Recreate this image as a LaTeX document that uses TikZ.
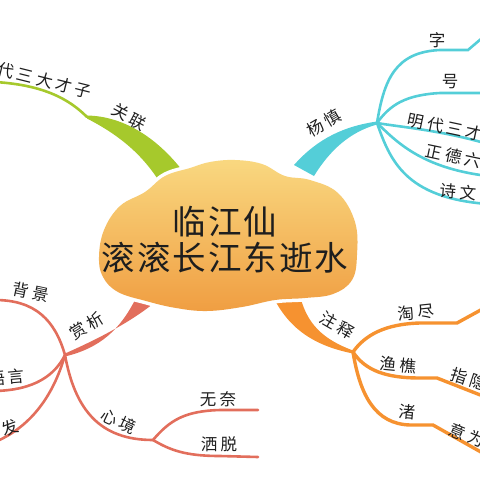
\documentclass[tikz,border=0pt]{standalone}
\usepackage{fontspec}
\setmainfont{Noto Sans CJK SC}
\usepackage{tikz}
\usetikzlibrary{positioning}
\definecolor{limegreen}{RGB}{166,201,44}
\definecolor{skycyan}{RGB}{84,206,216}
\definecolor{coralred}{RGB}{226,110,92}
\definecolor{sunorange}{RGB}{246,146,48}
\definecolor{cloudtop}{RGB}{249,216,128}
\definecolor{cloudmid}{RGB}{245,188,100}
\definecolor{cloudbot}{RGB}{240,158,66}
\definecolor{inkblack}{RGB}{30,30,30}
\newfontfamily\tagfont[LetterSpace=20]{Noto Sans CJK SC}
\newfontfamily\headfont[LetterSpace=6]{Noto Sans CJK SC}

\begin{document}
\begin{tikzpicture}[x=1pt, y=-1pt,
    twig/.style={line width=2.6pt, line cap=round},
    tag/.style={font=\tagfont\fontsize{16.5}{19}\selectfont, text=inkblack, inner sep=0pt},
    headline/.style={font=\headfont\fontsize{33.5}{36}\selectfont, text=inkblack, align=center}
]
    \useasboundingbox (0,0) rectangle (480,480);
    \clip (0,0) rectangle (480,480);

    % Junctions and free ends
    \coordinate (jgreen) at (87,117);
    \coordinate (gend) at (-5,82);
    \coordinate (jcyan) at (377,123);
    \coordinate (czk) at (468,50);
    \coordinate (czend) at (488,33);
    \coordinate (chend) at (488,93);
    \coordinate (cmend) at (488,144);
    \coordinate (czdend) at (488,176);
    \coordinate (cswend) at (488,204);
    \coordinate (jred) at (65,355);
    \coordinate (rbj) at (-5,300);
    \coordinate (ryy) at (-5,391);
    \coordinate (rbf) at (-5,442);
    \coordinate (jxin) at (153,440);
    \coordinate (rwn) at (258,410);
    \coordinate (rst) at (258,457);
    \coordinate (jorange) at (353,352);
    \coordinate (otk) at (457,323);
    \coordinate (otend) at (488,306);
    \coordinate (oyk) at (437,378);
    \coordinate (oyend) at (488,398);
    \coordinate (ozk) at (433,425);
    \coordinate (ozend) at (488,456);

    % Green branch
    \draw[twig, limegreen] (jgreen) .. controls (70,100) and (45,85) .. (gend);
    \fill[limegreen] ([yshift=1.5pt]jgreen) .. controls (118,116) and (152,132) .. (182,170)
        -- (162,186) .. controls (142,152) and (115,133) .. ([yshift=-1.5pt]jgreen) -- cycle;

    % Cyan branch
    \draw[twig, skycyan] (jcyan) .. controls (384,80) and (395,52) .. (440,50) -- (czk) -- (czend);
    \draw[twig, skycyan] (jcyan) .. controls (390,105) and (405,95) .. (440,93) -- (chend);
    \draw[twig, skycyan] (jcyan) .. controls (400,127) and (440,130) .. (cmend);
    \draw[twig, skycyan] (jcyan) .. controls (395,140) and (420,168) .. (czdend);
    \draw[twig, skycyan] (jcyan) .. controls (390,160) and (405,198) .. (cswend);
    \fill[skycyan] ([yshift=1.5pt]jcyan) .. controls (345,126) and (318,138) .. (294,165)
        -- (314,176) .. controls (330,150) and (350,132) .. ([yshift=-1.5pt]jcyan) -- cycle;

    % Red branch
    \draw[twig, coralred] (jred) .. controls (55,320) and (35,300) .. (rbj);
    \draw[twig, coralred] (jred) .. controls (55,375) and (35,390) .. (ryy);
    \draw[twig, coralred] (jred) .. controls (55,390) and (35,425) .. (rbf);
    \draw[twig, coralred] (jred) .. controls (75,410) and (100,440) .. (jxin);
    \draw[twig, coralred] (jxin) .. controls (170,420) and (185,411) .. (220,410) -- (rwn);
    \draw[twig, coralred] (jxin) .. controls (170,450) and (185,456) .. (220,456) -- (rst);
    \fill[coralred] ([yshift=1.5pt]jred) .. controls (100,338) and (135,320) .. (160,298)
        -- (136,298) .. controls (120,330) and (100,348) .. ([yshift=-1.5pt]jred) -- cycle;

    % Orange branch
    \draw[twig, sunorange, line width=3.4pt] (jorange) .. controls (365,335) and (385,324) .. (420,323) -- (otk) -- (otend);
    \draw[twig, sunorange, line width=3.4pt] (jorange) .. controls (365,370) and (385,378) .. (420,378) -- (oyk) -- (oyend);
    \draw[twig, sunorange, line width=3.4pt] (jorange) .. controls (360,395) and (375,424) .. (410,425) -- (ozk) -- (ozend);
    \fill[sunorange] (270,290) .. controls (285,325) and (310,345) .. ([yshift=-1.5pt]jorange)
        -- ([yshift=1.5pt]jorange) .. controls (325,340) and (305,325) .. (299,290) -- cycle;

    % Cloud
    \fill[black!18, xshift=1.5pt, yshift=-2pt] plot[smooth cycle, tension=0.65] coordinates {(99,257) (104,230) (120,206) (145,192) (165,176) (190,168) (210,162) (235,160) (262,164) (285,176) (310,180) (338,193) (355,222) (357,255) (352,280) (333,294) (305,298) (275,300) (242,307) (207,311) (176,308) (146,301) (118,292) (103,277)};
    \draw[white, fill=white, line width=7pt] plot[smooth cycle, tension=0.65] coordinates {(99,257) (104,230) (120,206) (145,192) (165,176) (190,168) (210,162) (235,160) (262,164) (285,176) (310,180) (338,193) (355,222) (357,255) (352,280) (333,294) (305,298) (275,300) (242,307) (207,311) (176,308) (146,301) (118,292) (103,277)};
    \shade[top color=cloudtop, middle color=cloudmid, bottom color=cloudbot] plot[smooth cycle, tension=0.65] coordinates {(99,257) (104,230) (120,206) (145,192) (165,176) (190,168) (210,162) (235,160) (262,164) (285,176) (310,180) (338,193) (355,222) (357,255) (352,280) (333,294) (305,298) (275,300) (242,307) (207,311) (176,308) (146,301) (118,292) (103,277)};
    \node[headline] (poem) at (225,240) {临江仙\\滚滚长江东逝水};

    % Green labels
    \node[tag, rotate=-14] (mingdai) at (35,78) {明代三大才子};
    \node[tag, rotate=-28] (guanlian) at (129,117) {关联};

    % Cyan labels
    \node[tag, rotate=30] (yangshen) at (324,123) {杨慎};
    \node[tag] (zi) at (437,40) {字};
    \node[tag] (hao) at (450,82) {号};
    \node[tag, rotate=-12, anchor=west] (mingsan) at (408,119) {明代三才子};
    \node[tag, rotate=-12, anchor=west] (zhengde) at (426,150) {正德六年};
    \node[tag, rotate=-5, anchor=west] (shiwen) at (440,190) {诗文};

    % Red labels
    \node[tag, rotate=32] (shangxi) at (87,326) {赏析};
    \node[tag, rotate=-12] (beijing) at (31,292) {背景};
    \node[tag, rotate=5, anchor=east] (yuyan) at (25,376) {语言};
    \node[tag, rotate=20, anchor=east] (baifa) at (18,425) {白发};
    \node[tag, rotate=-25] (xinjing) at (119,421) {心境};
    \node[tag] (wunai) at (218,399) {无奈};
    \node[tag] (satuo) at (219,444) {洒脱};

    % Orange labels
    \node[tag, rotate=-30] (zhushi) at (337,325) {注释};
    \node[tag, rotate=6] (taojin) at (416,312) {淘尽};
    \node[tag, rotate=-5] (yuqiao) at (398,365) {渔樵};
    \node[tag, rotate=-18, anchor=west] (zhiyin) at (451,373) {指隐};
    \node[tag, rotate=-5] (zhu) at (407,412) {渚};
    \node[tag, rotate=-22, anchor=west] (yiwei) at (450,428) {意为};

\end{tikzpicture}
\end{document}
